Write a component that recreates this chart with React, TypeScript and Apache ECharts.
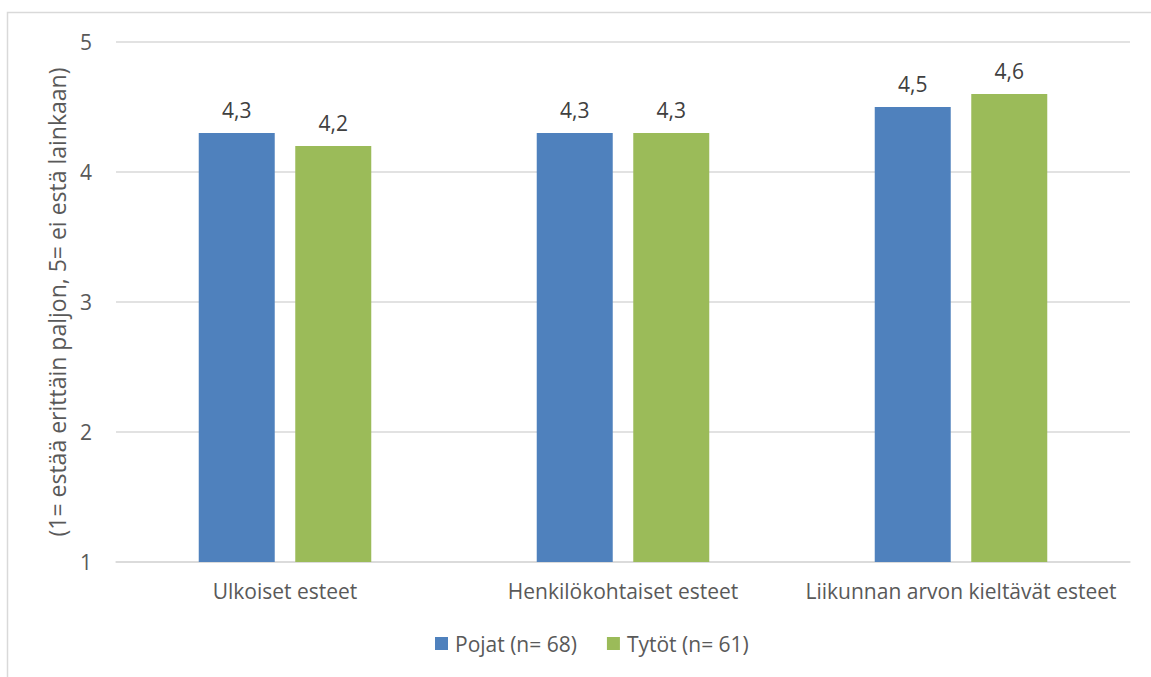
import React, { useEffect, useRef } from "react";
import * as echarts from "echarts";

const categories = ["Ulkoiset esteet", "Henkilökohtaiset esteet", "Liikunnan arvon kieltävät esteet"];
const seriesNames = ["Pojat (n= 68)", "Tytöt (n= 61)"];
const pojat = [4.3, 4.3, 4.5];
const tytot = [4.2, 4.3, 4.6];
const yAxisTitle = "(1= estää erittäin paljon, 5= ei estä lainkaan)";

const FONT = "'Open Sans', sans-serif";
const TEXT = "#595959";
const SIZE = 21;

export default function App() {
  const ref = useRef<HTMLDivElement>(null);
  useEffect(() => {
    document.body.style.margin = "0";
    const chart = echarts.init(ref.current!, null, { renderer: "svg" });
    const label = {
      show: true,
      position: "top",
      distance: 13,
      color: "#404040",
      fontSize: SIZE,
      fontFamily: FONT,
      formatter: (p: any) => String(p.value).replace(".", ","),
    };
    chart.setOption({
      animation: false,
      textStyle: { fontFamily: FONT },
      graphic: [
        {
          type: "rect",
          shape: { x: 7.5, y: 12.5, width: 1200, height: 800 },
          style: { fill: "none", stroke: "#D9D9D9", lineWidth: 1.5 },
          silent: true,
        },
      ],
      grid: { left: 116, right: 21, top: 42, bottom: 115 },
      legend: {
        bottom: 18,
        left: 430,
        itemWidth: 13,
        itemHeight: 13,
        itemGap: 30,
        icon: "rect",
        textStyle: { color: TEXT, fontSize: SIZE, fontFamily: FONT, padding: [0, 0, 0, 2] },
        data: seriesNames,
      },
      xAxis: {
        type: "category",
        data: categories,
        axisLine: { lineStyle: { color: "#D9D9D9", width: 1.5 } },
        axisTick: { show: false },
        axisLabel: {
          color: TEXT,
          fontSize: SIZE,
          fontFamily: FONT,
          margin: 18,
          interval: 0,
          hideOverlap: false,
        },
      },
      yAxis: {
        type: "value",
        min: 1,
        max: 5,
        interval: 1,
        name: yAxisTitle,
        nameLocation: "middle",
        nameGap: 48,
        nameTextStyle: { color: TEXT, fontSize: 23, fontFamily: FONT },
        axisLabel: { color: TEXT, fontSize: SIZE, fontFamily: FONT, margin: 24 },
        splitLine: { lineStyle: { color: "#D9D9D9", width: 1.5 } },
        axisLine: { show: false },
        axisTick: { show: false },
      },
      series: [
        {
          name: seriesNames[0],
          type: "bar",
          data: pojat,
          barWidth: 76,
          barGap: "27%",
          itemStyle: { color: "#4F81BD" },
          label,
        },
        {
          name: seriesNames[1],
          type: "bar",
          data: tytot,
          barWidth: 76,
          barGap: "27%",
          itemStyle: { color: "#9BBB59" },
          label,
        },
      ],
    });
    return () => chart.dispose();
  }, []);
  return <div ref={ref} style={{ width: 1151, height: 677 }} />;
}
